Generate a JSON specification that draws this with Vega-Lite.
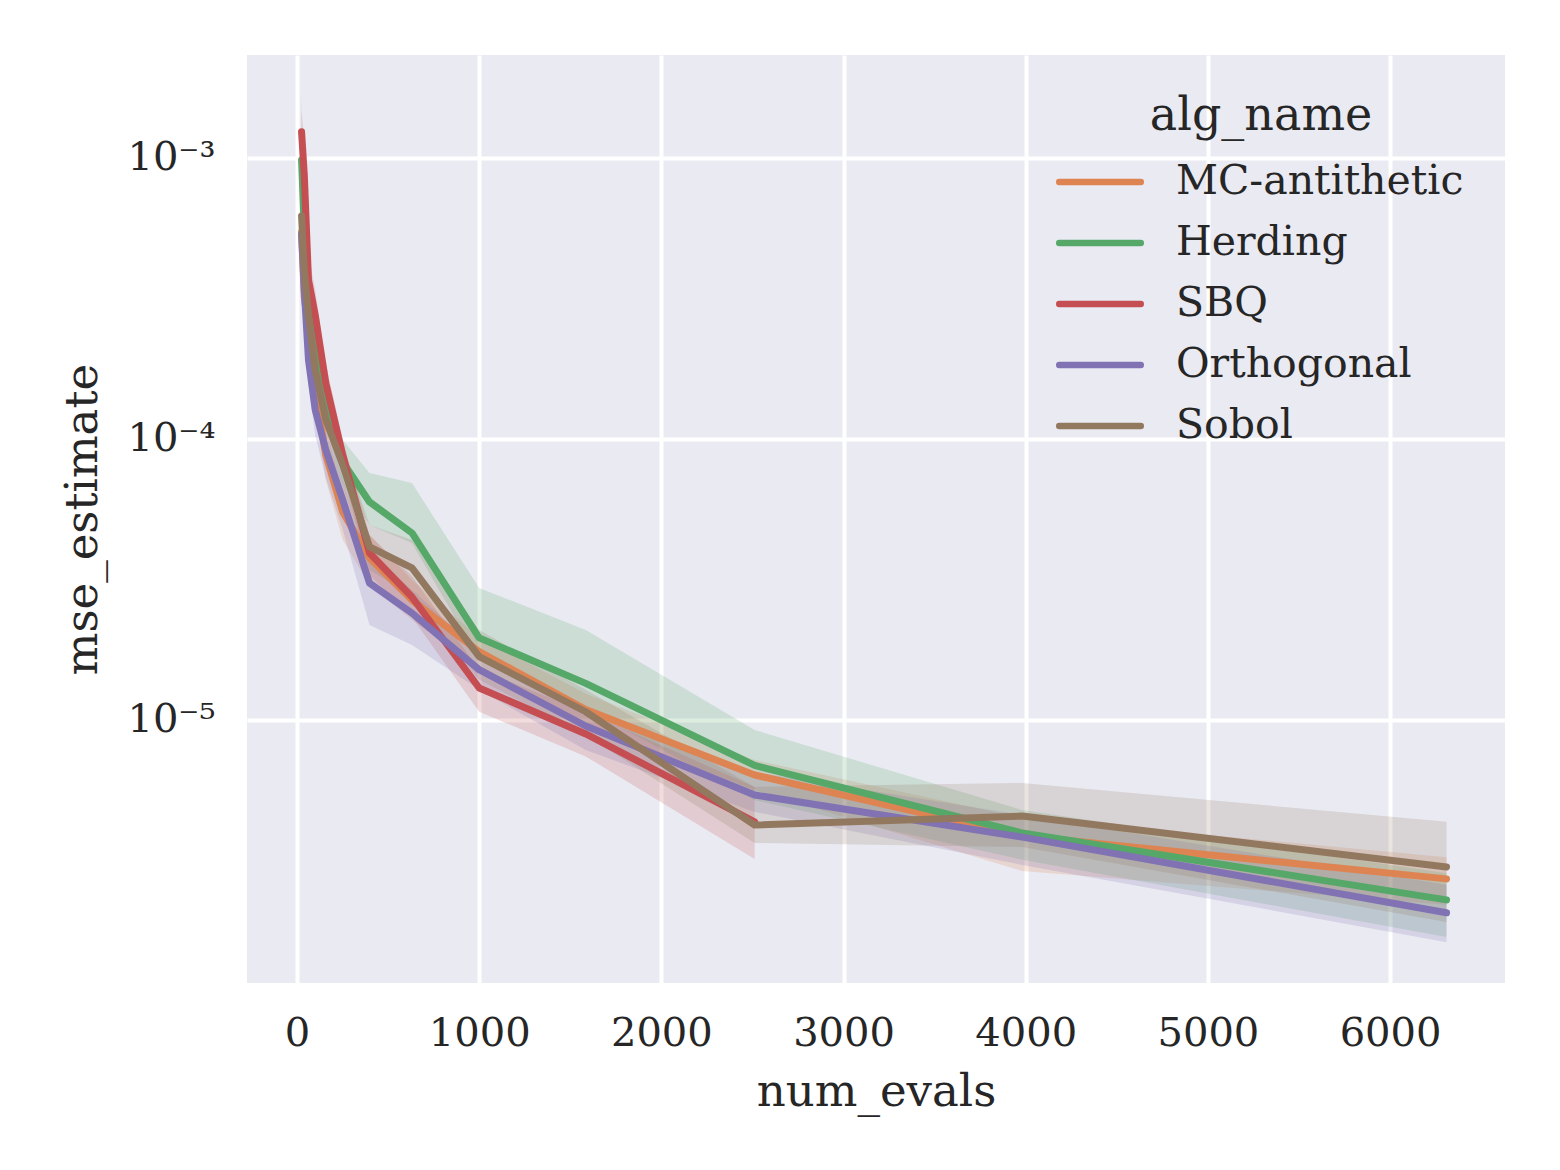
{
  "$schema": "https://vega.github.io/schema/vega-lite/v6.json",
  "width": 1258,
  "height": 928,
  "autosize": {"type": "none"},
  "padding": {"left": 247, "top": 55, "right": 55, "bottom": 187},
  "background": "white",
  "config": {
    "view": {"fill": "#EAEAF2", "stroke": null},
    "font": "DejaVu Serif",
    "axis": {
      "domain": false, "ticks": false, "tickSize": 0,
      "grid": true, "gridColor": "white", "gridWidth": 4, "gridOpacity": 1,
      "labelFont": "DejaVu Serif", "labelFontSize": 40, "labelColor": "#262626",
      "titleFont": "DejaVu Serif", "titleFontSize": 45, "titleFontWeight": "normal", "titleColor": "#262626"
    }
  },
  "data": {"values": [
    {"alg": "MC-antithetic", "n": 25, "mean": 5.45e-4, "lo": 4.44e-4, "hi": 6.69e-4},
    {"alg": "MC-antithetic", "n": 40, "mean": 3.20e-4, "lo": 2.61e-4, "hi": 3.93e-4},
    {"alg": "MC-antithetic", "n": 63, "mean": 2.44e-4, "lo": 1.99e-4, "hi": 3.00e-4},
    {"alg": "MC-antithetic", "n": 100, "mean": 1.49e-4, "lo": 1.22e-4, "hi": 1.83e-4},
    {"alg": "MC-antithetic", "n": 158, "mean": 8.77e-5, "lo": 7.15e-5, "hi": 1.08e-4},
    {"alg": "MC-antithetic", "n": 251, "mean": 5.50e-5, "lo": 4.37e-5, "hi": 6.86e-5},
    {"alg": "MC-antithetic", "n": 398, "mean": 3.77e-5, "lo": 3.02e-5, "hi": 4.55e-5},
    {"alg": "MC-antithetic", "n": 631, "mean": 2.67e-5, "lo": 2.27e-5, "hi": 3.15e-5},
    {"alg": "MC-antithetic", "n": 1000, "mean": 1.75e-5, "lo": 1.54e-5, "hi": 1.97e-5},
    {"alg": "MC-antithetic", "n": 1585, "mean": 1.09e-5, "lo": 9.68e-6, "hi": 1.24e-5},
    {"alg": "MC-antithetic", "n": 2512, "mean": 6.37e-6, "lo": 5.63e-6, "hi": 7.20e-6},
    {"alg": "MC-antithetic", "n": 3981, "mean": 3.87e-6, "lo": 2.90e-6, "hi": 4.48e-6},
    {"alg": "MC-antithetic", "n": 6310, "mean": 2.72e-6, "lo": 2.20e-6, "hi": 3.25e-6},
    {"alg": "Herding", "n": 25, "mean": 9.84e-4, "lo": 7.69e-4, "hi": 1.26e-3},
    {"alg": "Herding", "n": 40, "mean": 5.54e-4, "lo": 4.52e-4, "hi": 6.80e-4},
    {"alg": "Herding", "n": 63, "mean": 3.39e-4, "lo": 2.76e-4, "hi": 4.16e-4},
    {"alg": "Herding", "n": 100, "mean": 2.25e-4, "lo": 1.83e-4, "hi": 2.76e-4},
    {"alg": "Herding", "n": 158, "mean": 1.38e-4, "lo": 1.12e-4, "hi": 1.65e-4},
    {"alg": "Herding", "n": 251, "mean": 8.28e-5, "lo": 6.86e-5, "hi": 9.92e-5},
    {"alg": "Herding", "n": 398, "mean": 5.97e-5, "lo": 4.94e-5, "hi": 7.57e-5},
    {"alg": "Herding", "n": 631, "mean": 4.63e-5, "lo": 4.26e-5, "hi": 6.97e-5},
    {"alg": "Herding", "n": 1000, "mean": 1.96e-5, "lo": 1.64e-5, "hi": 2.95e-5},
    {"alg": "Herding", "n": 1585, "mean": 1.35e-5, "lo": 1.10e-5, "hi": 2.09e-5},
    {"alg": "Herding", "n": 2512, "mean": 6.89e-6, "lo": 5.19e-6, "hi": 9.21e-6},
    {"alg": "Herding", "n": 3981, "mean": 3.96e-6, "lo": 3.18e-6, "hi": 4.78e-6},
    {"alg": "Herding", "n": 6310, "mean": 2.29e-6, "lo": 1.69e-6, "hi": 2.85e-6},
    {"alg": "SBQ", "n": 25, "mean": 1.24e-3, "lo": 9.44e-4, "hi": 1.48e-3},
    {"alg": "SBQ", "n": 40, "mean": 8.70e-4, "lo": 6.80e-4, "hi": 1.11e-3},
    {"alg": "SBQ", "n": 63, "mean": 3.68e-4, "lo": 3.00e-4, "hi": 4.52e-4},
    {"alg": "SBQ", "n": 100, "mean": 2.76e-4, "lo": 2.25e-4, "hi": 3.39e-4},
    {"alg": "SBQ", "n": 158, "mean": 1.58e-4, "lo": 1.34e-4, "hi": 1.86e-4},
    {"alg": "SBQ", "n": 251, "mean": 8.77e-5, "lo": 7.63e-5, "hi": 9.92e-5},
    {"alg": "SBQ", "n": 398, "mean": 3.93e-5, "lo": 3.28e-5, "hi": 4.55e-5},
    {"alg": "SBQ", "n": 631, "mean": 2.74e-5, "lo": 2.32e-5, "hi": 3.25e-5},
    {"alg": "SBQ", "n": 1000, "mean": 1.30e-5, "lo": 1.07e-5, "hi": 1.51e-5},
    {"alg": "SBQ", "n": 1585, "mean": 8.92e-6, "lo": 7.42e-6, "hi": 1.07e-5},
    {"alg": "SBQ", "n": 2512, "mean": 4.34e-6, "lo": 3.20e-6, "hi": 5.78e-6},
    {"alg": "Orthogonal", "n": 25, "mean": 5.36e-4, "lo": 4.34e-4, "hi": 6.53e-4},
    {"alg": "Orthogonal", "n": 40, "mean": 3.39e-4, "lo": 2.76e-4, "hi": 4.06e-4},
    {"alg": "Orthogonal", "n": 63, "mean": 1.91e-4, "lo": 1.56e-4, "hi": 2.29e-4},
    {"alg": "Orthogonal", "n": 100, "mean": 1.27e-4, "lo": 1.03e-4, "hi": 1.52e-4},
    {"alg": "Orthogonal", "n": 158, "mean": 9.14e-5, "lo": 7.26e-5, "hi": 1.09e-4},
    {"alg": "Orthogonal", "n": 251, "mean": 6.07e-5, "lo": 4.75e-5, "hi": 7.26e-5},
    {"alg": "Orthogonal", "n": 398, "mean": 3.07e-5, "lo": 2.18e-5, "hi": 3.93e-5},
    {"alg": "Orthogonal", "n": 631, "mean": 2.40e-5, "lo": 1.85e-5, "hi": 2.90e-5},
    {"alg": "Orthogonal", "n": 1000, "mean": 1.51e-5, "lo": 1.28e-5, "hi": 1.77e-5},
    {"alg": "Orthogonal", "n": 1585, "mean": 9.52e-6, "lo": 7.82e-6, "hi": 1.10e-5},
    {"alg": "Orthogonal", "n": 2512, "mean": 5.41e-6, "lo": 4.71e-6, "hi": 6.53e-6},
    {"alg": "Orthogonal", "n": 3981, "mean": 3.83e-6, "lo": 3.05e-6, "hi": 4.59e-6},
    {"alg": "Orthogonal", "n": 6310, "mean": 2.06e-6, "lo": 1.62e-6, "hi": 2.59e-6},
    {"alg": "Sobol", "n": 25, "mean": 6.22e-4, "lo": 3.83e-4, "hi": 1.68e-3},
    {"alg": "Sobol", "n": 40, "mean": 3.99e-4, "lo": 3.12e-4, "hi": 5.11e-4},
    {"alg": "Sobol", "n": 63, "mean": 2.76e-4, "lo": 2.25e-4, "hi": 3.33e-4},
    {"alg": "Sobol", "n": 100, "mean": 1.76e-4, "lo": 1.47e-4, "hi": 2.07e-4},
    {"alg": "Sobol", "n": 158, "mean": 1.17e-4, "lo": 9.76e-5, "hi": 1.38e-4},
    {"alg": "Sobol", "n": 251, "mean": 8.08e-5, "lo": 6.75e-5, "hi": 9.52e-5},
    {"alg": "Sobol", "n": 398, "mean": 4.13e-5, "lo": 3.42e-5, "hi": 4.94e-5},
    {"alg": "Sobol", "n": 631, "mean": 3.48e-5, "lo": 2.78e-5, "hi": 4.37e-5},
    {"alg": "Sobol", "n": 1000, "mean": 1.68e-5, "lo": 1.39e-5, "hi": 2.09e-5},
    {"alg": "Sobol", "n": 1585, "mean": 1.07e-5, "lo": 8.84e-6, "hi": 1.28e-5},
    {"alg": "Sobol", "n": 2512, "mean": 4.23e-6, "lo": 3.65e-6, "hi": 5.78e-6},
    {"alg": "Sobol", "n": 3981, "mean": 4.55e-6, "lo": 3.53e-6, "hi": 5.97e-6},
    {"alg": "Sobol", "n": 6310, "mean": 3.00e-6, "lo": 1.91e-6, "hi": 4.34e-6}
  ]},
  "encoding": {
    "x": {
      "field": "n", "type": "quantitative",
      "scale": {"domain": [-274.5, 6631], "nice": false, "zero": false},
      "axis": {
        "title": "num_evals", "values": [0, 1000, 2000, 3000, 4000, 5000, 6000], "format": "d",
        "labelBaseline": "alphabetic", "labelPadding": 62,
        "titleBaseline": "alphabetic", "titleY": 122
      }
    },
    "color": {
      "field": "alg", "type": "nominal",
      "scale": {"domain": ["MC-antithetic", "Herding", "SBQ", "Orthogonal", "Sobol"], "range": ["#DD8452", "#55A868", "#C44E52", "#8172B3", "#937860"]},
      "legend": {
        "title": "alg_name", "orient": "none", "legendX": 812, "legendY": 39,
        "titleFont": "DejaVu Serif", "titleFontSize": 46, "titleFontWeight": "normal", "titleColor": "#262626",
        "titleAnchor": "middle", "titlePadding": 1, "titleLimit": 2000,
        "labelFont": "DejaVu Serif", "labelFontSize": 41, "labelColor": "#262626", "labelLimit": 2000,
        "symbolType": "M-1.087,0H1.087", "symbolSize": 5625, "symbolStrokeWidth": 6.5, "symbolOpacity": 1,
        "labelOffset": 35, "rowPadding": 0, "padding": 0,
        "encode": {"symbols": {"update": {"strokeCap": {"value": "round"}, "fillOpacity": {"value": 0}}}}
      }
    }
  },
  "layer": [
    {
      "mark": {"type": "area", "fillOpacity": 0.2},
      "encoding": {
        "y": {"field": "lo", "type": "quantitative", "scale": {"type": "log", "domain": [1.159e-6, 2.325e-3], "nice": false}},
        "y2": {"field": "hi"}
      }
    },
    {
      "mark": {"type": "line", "strokeWidth": 7, "strokeCap": "round", "strokeJoin": "round"},
      "encoding": {
        "y": {
          "field": "mean", "type": "quantitative",
          "axis": {
            "title": "mse_estimate", "values": [1e-5, 1e-4, 1e-3],
            "labelExpr": "datum.value > 0.0005 ? '10⁻³' : datum.value > 0.00005 ? '10⁻⁴' : '10⁻⁵'",
            "labelPadding": 32, "titleBaseline": "alphabetic", "titleX": -151
          }
        }
      }
    }
  ]
}
